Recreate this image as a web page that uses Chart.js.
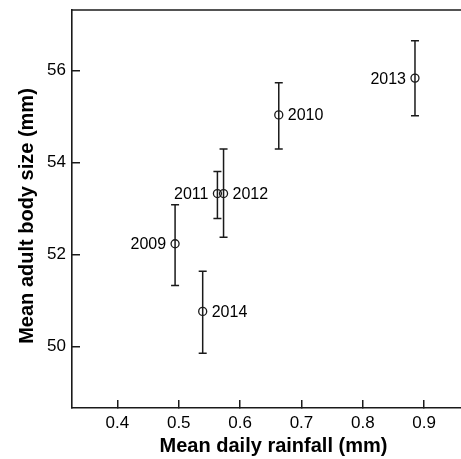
<!DOCTYPE html>
<html>
<head>
<meta charset="utf-8">
<script src="https://cdn.jsdelivr.net/npm/chart.js@4"></script>
<style>
  body { margin: 0; background: #fff; }
</style>
</head>
<body>
<canvas id="scatterChart" width="461" height="459"></canvas>
<script>
// data
const years = ["2009", "2010", "2011", "2012", "2013", "2014"];
const rainfall = [0.494, 0.663, 0.563, 0.573, 0.885, 0.539];
const bodySize = [52.24, 55.04, 53.33, 53.33, 55.84, 50.77];
const errLow = [51.33, 54.30, 52.79, 52.38, 55.02, 49.86];
const errHigh = [53.09, 55.74, 53.81, 54.30, 56.65, 51.64];
const labelSide = ["left", "right", "left", "right", "left", "right"];
const xTicks = [0.4, 0.5, 0.6, 0.7, 0.8, 0.9];
const yTicks = [50, 52, 54, 56];

const ink = '#1a1a1a';
const font = '"Liberation Sans", Arial, sans-serif';

points = [];
for (i = 0; i < years.length; i++) {
    points.push({ x: rainfall[i], y: bodySize[i] });
}

// error bars go under the circles
const errorBars = {
    id: 'errorBars',
    beforeDatasetsDraw(chart) {
        const ctx = chart.ctx;
        const xs = chart.scales.x, ys = chart.scales.y;
        ctx.save();
        ctx.strokeStyle = ink;
        ctx.lineWidth = 1.5;
        for (let i = 0; i < years.length; i++) {
            const px = xs.getPixelForValue(rainfall[i]);
            const top = ys.getPixelForValue(errHigh[i]);
            const bot = ys.getPixelForValue(errLow[i]);
            ctx.beginPath();
            ctx.moveTo(px, top); ctx.lineTo(px, bot);
            ctx.moveTo(px - 4, top); ctx.lineTo(px + 4, top);
            ctx.moveTo(px - 4, bot); ctx.lineTo(px + 4, bot);
            ctx.stroke();
        }
        ctx.restore();
    }
};

// year labels beside each point, and the top edge of the frame
const yearLabels = {
    id: 'yearLabels',
    afterDatasetsDraw(chart) {
        const ctx = chart.ctx;
        const a = chart.chartArea;
        const xs = chart.scales.x, ys = chart.scales.y;
        ctx.save();
        ctx.fillStyle = '#000';
        ctx.font = '16px ' + font;
        ctx.textBaseline = 'middle';
        for (let i = 0; i < years.length; i++) {
            const px = xs.getPixelForValue(rainfall[i]);
            const py = ys.getPixelForValue(bodySize[i]);
            if (labelSide[i] == 'left') {
                ctx.textAlign = 'right';
                ctx.fillText(years[i], px - 9, py + 1);
            } else {
                ctx.textAlign = 'left';
                ctx.fillText(years[i], px + 9, py + 1);
            }
        }
        ctx.strokeStyle = ink;
        ctx.lineWidth = 1.6;
        ctx.beginPath();
        ctx.moveTo(a.left, a.top);
        ctx.lineTo(a.right, a.top);
        ctx.stroke();
        ctx.restore();
    }
};

new Chart(document.getElementById("scatterChart"), {
    type: 'scatter',
    data: {
        datasets: [
            {
                label: 'body size',
                data: points,
                pointStyle: 'circle',
                pointRadius: 4,
                pointBorderWidth: 1.3,
                borderColor: ink,
                backgroundColor: 'rgba(0,0,0,0)'
            }
        ]
    },
    options: {
        responsive: false,
        animation: false,
        devicePixelRatio: 1,
        layout: { autoPadding: false, padding: { top: 10, right: 0, left: 0, bottom: 0 } },
        plugins: {
            legend: { display: false },
            tooltip: { enabled: false }
        },
        scales: {
            x: {
                type: 'linear',
                min: 0.326,
                max: 0.96,
                afterBuildTicks: s => { s.ticks = xTicks.map(v => ({ value: v })); },
                afterFit: s => { s.height = 51; s.paddingLeft = 0; s.paddingRight = 0; },
                // inward tick marks only
                grid: { display: true, drawOnChartArea: false, drawTicks: true, tickLength: -8, color: ink, lineWidth: 1.5 },
                border: { display: true, color: ink, width: 1.6 },
                ticks: {
                    color: '#000',
                    padding: 13,
                    font: { family: font, size: 17 },
                    callback: v => v.toFixed(1)
                },
                title: {
                    display: true,
                    text: '\u2002\u2009Mean daily rainfall (mm)',
                    color: '#000',
                    padding: { top: 0, bottom: 1 },
                    font: { family: font, size: 20, weight: 'bold' }
                }
            },
            y: {
                type: 'linear',
                min: 48.67,
                max: 57.32,
                afterBuildTicks: s => { s.ticks = yTicks.map(v => ({ value: v })); },
                afterFit: s => { s.width = 72; s.paddingTop = 0; s.paddingBottom = 0; },
                grid: { display: true, drawOnChartArea: false, drawTicks: true, tickLength: -8, color: ink, lineWidth: 1.5 },
                border: { display: true, color: ink, width: 1.6 },
                ticks: {
                    color: '#000',
                    padding: 14,
                    font: { family: font, size: 17 }
                },
                title: {
                    display: true,
                    text: 'Mean adult body size (mm)\u2002\u2009',
                    color: '#000',
                    padding: { top: 15, bottom: 0 },
                    font: { family: font, size: 20, weight: 'bold' }
                }
            }
        }
    },
    plugins: [errorBars, yearLabels]
});
</script>
</body>
</html>
